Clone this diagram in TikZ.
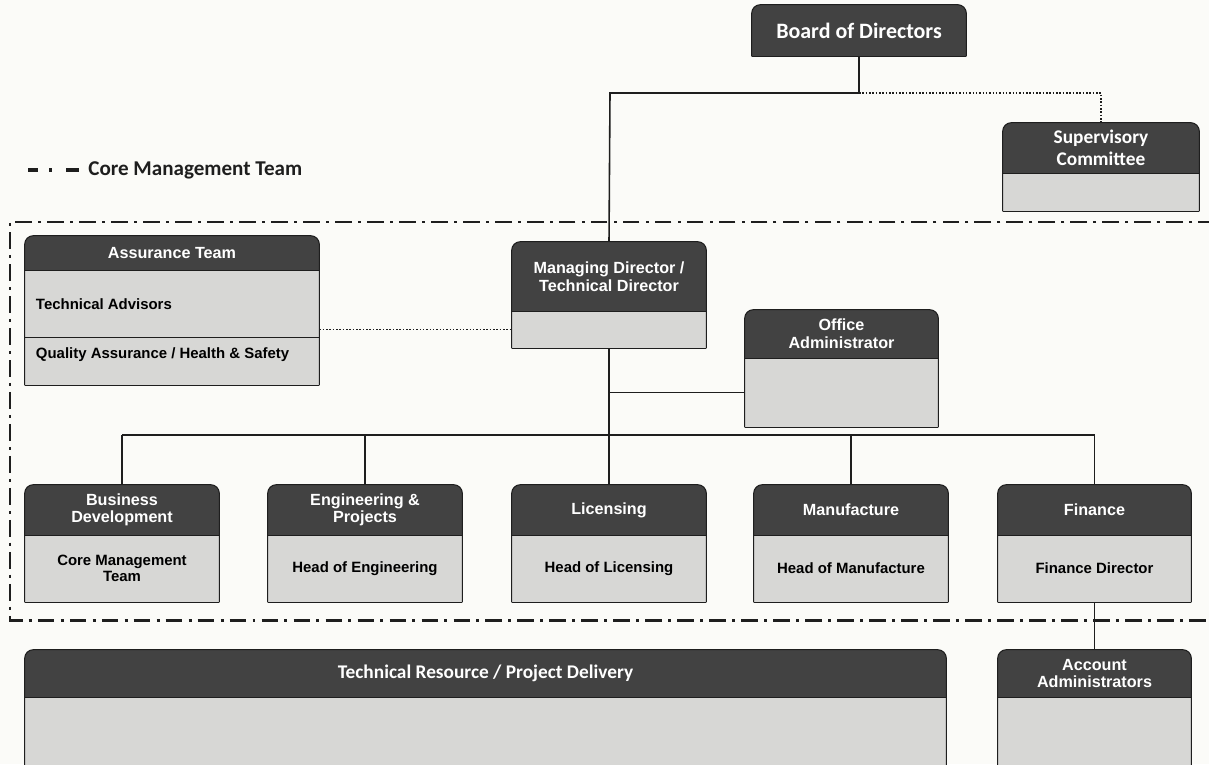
\documentclass[tikz,border=0pt]{standalone}
\usepackage{fontspec}
\setmainfont{Liberation Sans}
\newfontfamily\calfont{Carlito}
\usetikzlibrary{fit}

\definecolor{headgray}{RGB}{66,66,66}
\definecolor{bodygray}{RGB}{215,215,213}
\definecolor{paper}{RGB}{251,251,248}
\definecolor{inkgray}{RGB}{30,30,30}

\tikzset{
  boxline/.style={draw=inkgray, line width=0.6pt},
  link/.style={draw=inkgray, line width=0.9pt},
  coreline/.style={draw=inkgray, line width=1.7pt, dash pattern=on 9.5pt off 3.5pt on 1.7pt off 3.5pt},
  headtext/.style={text=white, font=\bfseries\fontsize{9.2}{10}\selectfont, align=center, inner sep=0pt},
  bodytext/.style={text=black, font=\bfseries\fontsize{8.5}{9.5}\selectfont, align=center, inner sep=0pt},
  calhead/.style={font=\calfont\bfseries\fontsize{#1}{12.5}\selectfont},
}

% [title options] name, x1, y1, x2, y split, y2, title
\newcommand{\orgbox}[8][]{%
  \node[fit={(#3,#4) (#5,#7)}, inner sep=0pt] (#2) {};
  \node[fit={(#3,#4) (#5,#6)}, inner sep=0pt] (#2-head) {};
  \node[fit={(#3,#6) (#5,#7)}, inner sep=0pt] (#2-body) {};
  \fill[bodygray] (#2-body.north west) rectangle (#2-body.south east);
  \fill[headgray, rounded corners=5pt] (#2-head.south west) -- (#2-head.north west) -- (#2-head.north east) -- (#2-head.south east);
  \draw[boxline, rounded corners=5pt] (#2.south west) -- (#2.north west) -- (#2.north east) -- (#2.south east);
  \draw[boxline] (#2.south west) -- (#2.south east);
  \draw[boxline] (#2-head.south west) -- (#2-head.south east);
  \node[headtext, #1] (#2-title) at (#2-head) {#8};
}

\begin{document}
\begin{tikzpicture}[x=0.02cm, y=-0.02cm]
\clip (0,0) rectangle (1209,764);
\fill[paper] (0,0) rectangle (1209,764);

% legend
\node[anchor=west, inner sep=0pt, text=inkgray, calhead=12] (legend) at (88,170) {Core Management Team};
\draw[inkgray, line width=2pt, dash pattern=on 5.7pt off 6.5pt on 1.7pt off 8pt on 7pt] ([xshift=-1.2cm]legend.west) -- ([xshift=-0.16cm]legend.west);

% core management boundary
\draw[coreline] (1215,222) -- (10,222) -- (10,620) -- (1215,620);

% boxes
\orgbox[calhead=12.5]{board}{752}{5}{966}{56}{56}{Board of Directors}
\orgbox[calhead=11]{sup}{1003}{123}{1199}{173}{211}{Supervisory\\Committee}
\orgbox{assur}{25}{236}{319}{270}{385}{Assurance Team}
\orgbox{md}{512}{242}{706}{311}{348}{Managing Director /\\Technical Director}
\orgbox{office}{745}{310}{938}{358}{427}{Office\\Administrator}
\orgbox{busdev}{25}{485}{219}{535}{602}{Business\\Development}
\orgbox{eng}{268}{485}{462}{535}{602}{Engineering \&\\Projects}
\orgbox{lic}{512}{485}{706}{535}{602}{Licensing}
\orgbox{manu}{754}{485}{948}{535}{602}{Manufacture}
\orgbox{fin}{998}{485}{1191}{535}{602}{Finance}
\orgbox[calhead=11]{tech}{25}{650}{946}{697}{790}{Technical Resource / Project Delivery}
\orgbox{acct}{998}{650}{1191}{697}{790}{Account\\Administrators}

% assurance team rows
\node[fit={(25,270) (319,338)}, inner sep=0pt] (assur-tech) {};
\node[fit={(25,338) (319,385)}, inner sep=0pt] (assur-qa) {};
\draw[boxline] (assur-qa.north west) -- (assur-qa.north east);
\node[bodytext, anchor=west] (assur-tech-txt) at ([xshift=0.22cm]assur-tech.west) {Technical Advisors};
\node[bodytext, anchor=west] (assur-qa-txt) at ([xshift=0.22cm, yshift=0.14cm]assur-qa.west) {Quality Assurance / Health \& Safety};

% body texts
\node[bodytext] (busdev-txt) at (busdev-body) {Core Management\\Team};
\node[bodytext] (eng-txt) at (eng-body) {Head of Engineering};
\node[bodytext] (lic-txt) at (lic-body) {Head of Licensing};
\node[bodytext] (manu-txt) at (manu-body) {Head of Manufacture};
\node[bodytext] (fin-txt) at (fin-body) {Finance Director};

% connectors
\coordinate (topbus) at (610,93);
\coordinate (deptbus) at (610,435);
\draw[link] (board.south) |- (topbus) -- (md.north);
\draw[link, densely dotted] (board.south |- topbus) -| (sup.north);
\draw[link, densely dotted] (md-body.west -| assur.east) -- (md-body.west);
\draw[link] (md.south) -- (lic.north);
\draw[link] (md.south |- office-body) -- (office-body.west);
\draw[link] (busdev.north |- deptbus) -- (fin.north |- deptbus);
\foreach \d in {busdev,eng,manu,fin}
  \draw[link] (\d.north |- deptbus) -- (\d.north);
\draw[link] (fin.south) -- (acct.north);
\end{tikzpicture}
\end{document}
